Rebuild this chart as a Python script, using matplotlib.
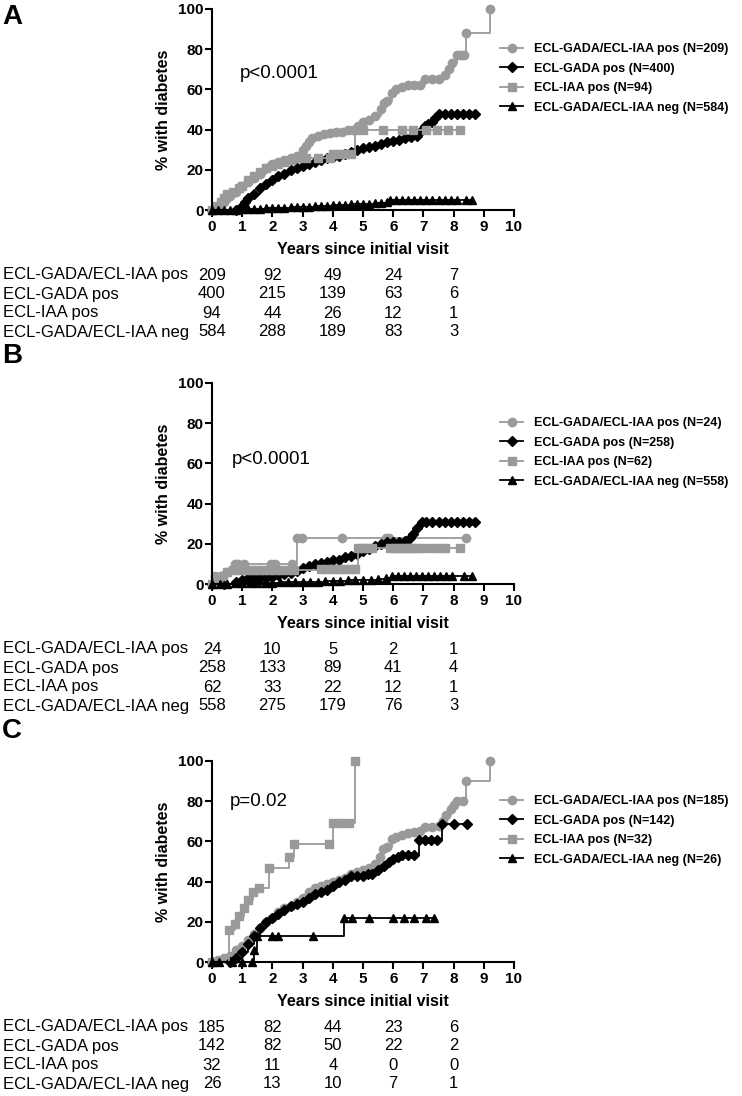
import matplotlib
matplotlib.use("Agg")
import matplotlib.pyplot as plt
from matplotlib.transforms import blended_transform_factory

plt.rcParams['font.family'] = ['Liberation Sans', 'DejaVu Sans']

groups = ["ECL-GADA/ECL-IAA pos", "ECL-GADA pos", "ECL-IAA pos", "ECL-GADA/ECL-IAA neg"]
risk_years = [0, 2, 4, 6, 8]

# ---- panel A ----
a_n = [209, 400, 94, 584]
a_risk = [[209, 92, 49, 24, 7],
          [400, 215, 139, 63, 6],
          [94, 44, 26, 12, 1],
          [584, 288, 189, 83, 3]]
a1_t = [0, 0.2, 0.4, 0.6, 0.8, 1.0, 1.2, 1.4, 1.6, 1.8, 2.0, 2.2, 2.4, 2.6, 2.8, 3.0, 3.1, 3.2, 3.3, 3.5,
        3.7, 3.9, 4.1, 4.3, 4.5, 4.7, 4.85, 5.0, 5.2, 5.4, 5.6, 5.7, 5.8, 5.95, 6.1, 6.3, 6.5, 6.7, 6.9, 7.05,
        7.3, 7.5, 7.7, 7.85, 7.95, 8.1, 8.25, 8.35, 8.4, 9.2]
a1_y = [0, 2, 4, 7, 9, 12, 14, 16, 18, 21, 23, 24, 25, 26, 27, 30, 32, 34, 36, 37,
        38, 38.5, 39, 39, 40, 40, 42, 44, 45, 47, 50, 53, 54, 58, 60, 61, 62, 62, 62, 65,
        65, 65, 67, 70, 73, 77, 77, 77, 88, 100]
a2_t = [0, 0.8, 1.0, 1.1, 1.2, 1.4, 1.6, 1.8, 2.0, 2.2, 2.4, 2.6, 2.8, 3.0, 3.2, 3.4, 3.6, 3.8, 4.0, 4.2,
        4.4, 4.6, 4.8, 5.0, 5.2, 5.4, 5.6, 5.8, 6.0, 6.2, 6.4, 6.6, 6.8, 6.95, 7.05, 7.15, 7.3, 7.4, 7.5, 7.7,
        7.9, 8.1, 8.3, 8.5, 8.7]
a2_y = [0, 0, 2, 4, 6, 8, 11, 13, 15, 17, 18, 20, 21, 22, 23, 24, 25, 26, 26.5, 27,
        28, 29, 30, 31, 31.5, 32, 33, 34, 34.5, 35, 36, 36.5, 37, 40, 42, 43, 44, 46, 48, 48,
        48, 48, 48, 48, 48]
a3_t = [0, 0.15, 0.3, 0.4, 0.5, 0.7, 0.9, 1.0, 1.2, 1.4, 1.6, 1.8, 2.0, 2.2, 2.4, 2.6, 2.8, 3.1, 3.5, 3.9,
        4.0, 4.2, 4.4, 4.6, 4.75, 5.0, 5.65, 6.3, 6.65, 7.1, 7.45, 7.8, 8.2]
a3_y = [0, 2, 4, 6, 8, 9, 11, 12, 15, 17, 19, 21, 22, 23, 24, 25, 26, 26, 26, 26,
        28, 28, 28, 28, 40, 40, 40, 40, 40, 40, 40, 40, 40]
a4_t = [0, 0.2, 0.4, 0.6, 0.8, 1.0, 1.2, 1.4, 1.6, 1.8, 2.0, 2.2, 2.4, 2.6, 2.8, 3.0, 3.2, 3.4, 3.6, 3.8,
        4.0, 4.2, 4.4, 4.6, 4.8, 5.0, 5.2, 5.4, 5.6, 5.8, 5.9, 6.1, 6.3, 6.5, 6.7, 6.9, 7.1, 7.3, 7.5, 7.7,
        7.9, 8.1, 8.4, 8.6]
a4_y = [0, 0, 0, 0, 0, 0.5, 0.5, 0.5, 0.7, 0.8, 1, 1, 1.2, 1.3, 1.5, 1.5, 1.7, 2, 2, 2.2,
        2.5, 2.5, 2.7, 3, 3, 3, 3.2, 3.5, 3.7, 4, 5, 5, 5, 5, 5, 5, 5, 5, 5, 5,
        5, 5, 5, 5]

# ---- panel B ----
b_n = [24, 258, 62, 558]
b_risk = [[24, 10, 5, 2, 1],
          [258, 133, 89, 41, 4],
          [62, 33, 22, 12, 1],
          [558, 275, 179, 76, 3]]
b1_t = [0, 0.1, 0.3, 0.5, 0.75, 0.85, 1.05, 1.95, 2.1, 2.65, 2.8, 2.98, 4.3, 5.75, 5.85, 8.4]
b1_y = [0, 4, 4, 6, 10, 10, 10, 10, 10, 10, 23, 23, 23, 23, 23, 23]
b2_t = [0, 0.4, 0.8, 1.0, 1.2, 1.4, 1.6, 1.8, 2.0, 2.2, 2.4, 2.6, 2.8, 3.0, 3.2, 3.4, 3.6, 3.8, 4.0, 4.2,
        4.4, 4.6, 4.8, 5.0, 5.2, 5.4, 5.6, 5.8, 6.0, 6.2, 6.4, 6.55, 6.65, 6.8, 6.95, 7.1, 7.3, 7.5, 7.7, 7.9,
        8.1, 8.3, 8.5, 8.7]
b2_y = [0, 0, 1, 2, 3, 3, 3, 3, 3.5, 4.5, 5, 5.5, 6.5, 8, 9, 10, 10.5, 11, 12, 12,
        13.5, 14, 15, 16.5, 17.5, 19, 20, 21, 21, 21, 21.5, 23, 25, 28, 31, 31, 31, 31, 31, 31,
        31, 31, 31, 31]
b3_t = [0, 0.2, 0.35, 0.5, 0.7, 0.9, 1.1, 1.3, 1.5, 1.7, 1.9, 2.1, 2.3, 2.5, 2.7, 3.6, 3.8, 4.0, 4.2, 4.4,
        4.6, 4.75, 4.85, 5.0, 5.15, 5.3, 5.9, 6.05, 6.2, 6.35, 6.5, 6.65, 6.8, 7.0, 7.3, 7.5, 7.7, 8.2]
b3_y = [0, 2, 4, 6, 7, 7, 7, 7, 7, 7, 7, 7, 7, 7, 7, 7.5, 7.5, 7.5, 7.5, 7.5,
        7.5, 7.5, 18, 18, 18, 18, 18, 18, 18, 18, 18, 18, 18, 18, 18, 18, 18, 18]
b4_t = [0, 0.25, 0.5, 0.75, 1.0, 1.25, 1.5, 1.75, 2.0, 2.25, 2.5, 2.75, 3.0, 3.25, 3.5, 3.75, 4.0, 4.25,
        4.5, 4.75, 5.0, 5.25, 5.5, 5.75, 5.95, 6.15, 6.35, 6.55, 6.75, 6.95, 7.15, 7.35, 7.55, 7.75, 7.95,
        8.35, 8.6]
b4_y = [0, 0, 0, 0.5, 0.5, 0.5, 0.5, 0.7, 0.7, 1, 1, 1, 1, 1.2, 1.2, 1.5, 1.5, 1.7,
        1.8, 2, 2, 2.2, 2.5, 3, 4, 4, 4, 4, 4, 4, 4, 4, 4, 4, 4,
        4, 4]

# ---- panel C ----
c_n = [185, 142, 32, 26]
c_risk = [[185, 82, 44, 23, 6],
          [142, 82, 50, 22, 2],
          [32, 11, 4, 0, 0],
          [26, 13, 10, 7, 1]]
c1_t = [0, 0.2, 0.4, 0.6, 0.8, 1.0, 1.2, 1.4, 1.6, 1.8, 2.0, 2.2, 2.4, 2.6, 2.8, 3.0, 3.2, 3.4, 3.6, 3.8,
        4.0, 4.2, 4.4, 4.6, 4.8, 5.0, 5.2, 5.4, 5.55, 5.65, 5.8, 5.95, 6.1, 6.3, 6.5, 6.7, 6.9, 7.05, 7.3, 7.5,
        7.65, 7.75, 7.9, 8.0, 8.1, 8.3, 8.4, 9.2]
c1_y = [0, 1, 2, 3, 6, 8, 11, 14, 17, 20, 22, 25, 27, 28, 30, 32, 35, 37, 38, 39,
        40, 41, 42, 44, 45, 46, 47, 49, 52, 56, 57, 61, 62, 63, 64, 64.5, 65, 67, 67, 67.5,
        70, 73, 76, 78, 80, 80, 90, 100]
c2_t = [0, 0.6, 0.8, 1.0, 1.2, 1.4, 1.6, 1.8, 2.0, 2.2, 2.4, 2.6, 2.8, 3.0, 3.2, 3.4, 3.6, 3.8, 4.0, 4.2,
        4.4, 4.6, 4.8, 5.0, 5.15, 5.3, 5.5, 5.7, 5.85, 6.0, 6.15, 6.3, 6.5, 6.7, 6.85, 7.05, 7.25, 7.45, 7.6, 8.0,
        8.45]
c2_y = [0, 0, 2, 5, 9, 13, 17, 20, 22, 24, 26, 28, 29, 30, 32, 34, 35, 36, 38, 40,
        41, 43, 43, 43, 44, 44, 46, 48, 50, 51, 52, 53, 53, 53, 60.5, 60.5, 60.5, 60.5, 68.5, 68.5,
        68.5]
c3_t = [0, 0.56, 0.75, 0.9, 1.05, 1.2, 1.35, 1.55, 1.9, 2.55, 2.7, 3.87, 4.0, 4.25, 4.55, 4.72]
c3_y = [0, 16, 19, 23, 27, 31, 35, 37, 47, 52, 58.5, 58.5, 69, 69, 69, 100]
c4_t = [0, 0.23, 0.67, 1.0, 1.33, 1.4, 1.5, 2.0, 2.2, 3.35, 4.37, 4.64, 5.2, 6.0, 6.36, 6.7, 7.1, 7.35]
c4_y = [0, 0, 0, 0, 0, 6, 13, 13, 13, 13, 22, 22, 22, 22, 22, 22, 22, 22]

GRAY = '#9a9a9a'
styles = [(GRAY, 'o', 6), ('black', 'D', 5), (GRAY, 's', 5.5), ('black', '^', 6)]

fig = plt.figure(figsize=(7.42, 10.96), dpi=100)
W, H = 742, 1096
ax_left, ax_w_px, ax_h_px = 212, 302, 201


def panel(bottom_px, curves, ns, risk, ptext, pxy, letter, letter_top):
    ax = fig.add_axes([ax_left / W, 1 - bottom_px / H, ax_w_px / W, ax_h_px / H])
    handles = []
    for (t, y), (col, mk, ms) in zip(curves, styles):
        ln, = ax.plot(t, y, drawstyle='steps-post', color=col, lw=1.3, marker=mk, ms=ms,
                      mec=col, mfc=col, clip_on=False)
        handles.append(ln)
    ax.set_xlim(0, 10)
    ax.set_ylim(0, 100)
    ax.set_xticks(range(0, 11))
    ax.set_yticks(range(0, 101, 20))
    for s in ['top', 'right']:
        ax.spines[s].set_visible(False)
    for s in ['left', 'bottom']:
        ax.spines[s].set_linewidth(1.5)
    ax.tick_params(direction='out', length=5, width=1.5, labelsize=11)
    ax.tick_params(axis='x', pad=2)
    ax.tick_params(axis='y', pad=1)
    for lab in ax.get_xticklabels() + ax.get_yticklabels():
        lab.set_fontweight('bold')
    ax.set_xlabel('Years since initial visit', fontsize=11.5, fontweight='bold', va='center')
    ax.xaxis.set_label_coords(0.5, -40 / ax_h_px)
    ax.set_ylabel('% with diabetes', fontsize=11.5, fontweight='bold', va='center')
    ax.yaxis.set_label_coords(-49 / ax_w_px, 0.5)
    ax.text(pxy[0], pxy[1], ptext, fontsize=13.5, va='center', ha='left')

    labels = [f"{g} (N={n})" for g, n in zip(groups, ns)]
    ax.legend(handles, labels, loc='upper left', bbox_to_anchor=(0.954, 0.83),
              frameon=False, prop={'weight': 'bold', 'size': 9}, handlelength=1.85,
              handletextpad=0.9, labelspacing=0.6, borderpad=0, borderaxespad=0)

    tr_lab = blended_transform_factory(fig.transFigure, ax.transAxes)
    tr_num = blended_transform_factory(ax.transData, ax.transAxes)
    for i, (g, row) in enumerate(zip(groups, risk)):
        yy = -(65 + 19 * i) / ax_h_px
        ax.text(3 / W, yy, g, transform=tr_lab, fontsize=12, va='center', ha='left')
        for xv, v in zip(risk_years, row):
            ax.text(xv, yy, str(v), transform=tr_num, fontsize=12, va='center', ha='center')

    fig.text(2 / W, 1 - letter_top / H, letter, fontsize=20, fontweight='bold', va='top', ha='left')
    return ax


panel(210, [(a1_t, a1_y), (a2_t, a2_y), (a3_t, a3_y), (a4_t, a4_y)], a_n, a_risk,
      'p<0.0001', (0.93, 68), 'A', 4)
panel(584, [(b1_t, b1_y), (b2_t, b2_y), (b3_t, b3_y), (b4_t, b4_y)], b_n, b_risk,
      'p<0.0001', (0.66, 62), 'B', 343)
panel(962, [(c1_t, c1_y), (c2_t, c2_y), (c3_t, c3_y), (c4_t, c4_y)], c_n, c_risk,
      'p=0.02', (0.6, 80), 'C', 718)

fig.savefig('out.png', dpi=100)
